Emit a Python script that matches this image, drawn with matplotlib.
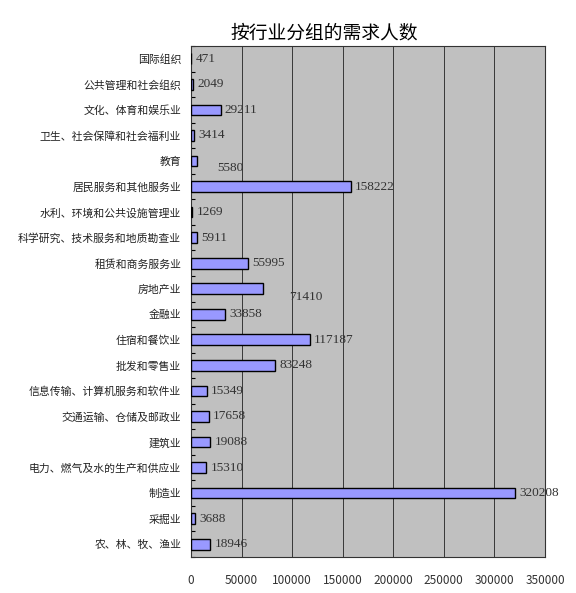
import matplotlib
matplotlib.use("Agg")
import matplotlib.pyplot as plt
import numpy as np

plt.rcParams['font.family'] = ['Noto Sans CJK SC', 'DejaVu Sans']

categories = ["农、林、牧、渔业", "采掘业", "制造业", "电力、燃气及水的生产和供应业", "建筑业",
              "交通运输、仓储及邮政业", "信息传输、计算机服务和软件业", "批发和零售业", "住宿和餐饮业",
              "金融业", "房地产业", "租赁和商务服务业", "科学研究、技术服务和地质勘查业",
              "水利、环境和公共设施管理业", "居民服务和其他服务业", "教育", "卫生、社会保障和社会福利业",
              "文化、体育和娱乐业", "公共管理和社会组织", "国际组织"]
values = [18946, 3688, 320208, 15310, 19088, 17658, 15349, 83248, 117187,
          33858, 71410, 55995, 5911, 1269, 158222, 5580, 3414, 29211, 2049, 471]
xticks = [0, 50000, 100000, 150000, 200000, 250000, 300000, 350000]
title = "按行业分组的需求人数"

# label offsets (points) for quirky label placements in the original
label_dx = {"教育": 12, "房地产业": 16}
label_dy = {"教育": -5, "房地产业": -6}

fig = plt.figure(figsize=(5.76, 5.93), dpi=100)
ax = fig.add_axes([191/576, 1-557/593, 354/576, 511/593])
ax.set_facecolor('#C0C0C0')

y = np.arange(len(categories))
ax.barh(y, values, height=0.42, color='#9999FF', edgecolor='black', linewidth=1.0, zorder=3)
ax.set_xlim(0, 350000)
ax.set_ylim(-0.5, len(categories) - 0.5)
ax.set_xticks(xticks)
ax.set_xticklabels([str(t) for t in xticks], fontsize=8.5, color='#333333')
ax.tick_params(axis='x', length=0, pad=12)
ax.set_yticks(y)
ax.set_yticklabels(categories, fontsize=7.8, color='#222222')
ax.tick_params(axis='y', length=0, pad=7)
ax.set_yticks(np.arange(-0.5, len(categories), 1), minor=True)
ax.tick_params(axis='y', which='minor', direction='in', length=3, width=0.8)
ax.grid(axis='x', color='#222222', linewidth=0.6, zorder=1)
for s in ax.spines.values():
    s.set_linewidth(0.8)
    s.set_color('#333333')

for yi, v, c in zip(y, values, categories):
    ax.annotate(str(v), xy=(v, yi), xytext=(3 + label_dx.get(c, 0), label_dy.get(c, 0)),
                textcoords='offset points', va='center', ha='left', color='#333333',
                fontsize=9.5, family=['Liberation Serif', 'DejaVu Serif'], zorder=4)

fig.text(324/576, 1-33/593, title, ha='center', va='center', fontsize=13.5)

fig.savefig('out.png', dpi=100)
